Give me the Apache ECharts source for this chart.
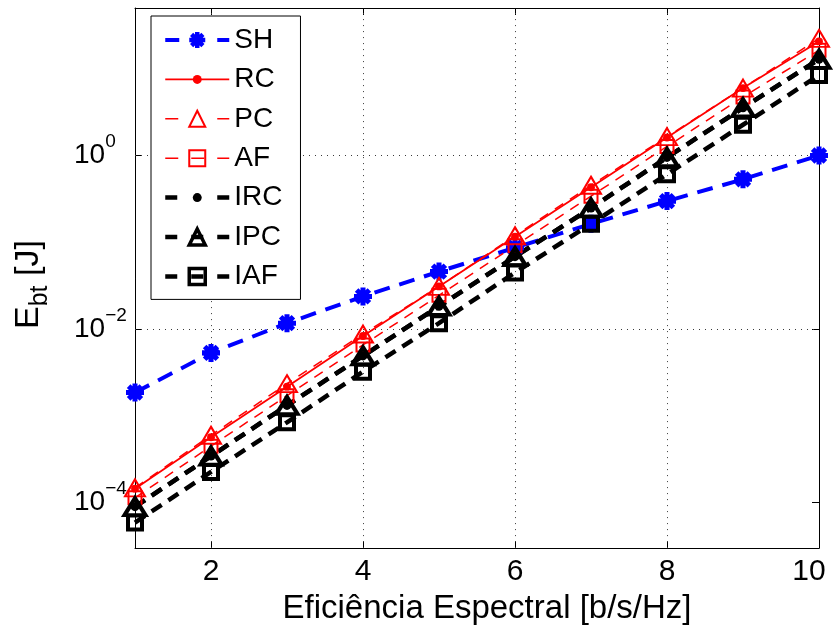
<!DOCTYPE html>
<html>
<head>
<meta charset="utf-8">
<script src="https://cdn.jsdelivr.net/npm/echarts@6/dist/echarts.min.js"></script>
<style>
  html, body { margin: 0; padding: 0; background: #ffffff; }
  #chart { width: 837px; height: 630px; }
</style>
</head>
<body>
<div id="chart"></div>
<script>
// Energy per bit versus spectral efficiency
const efficiency = [1, 2, 3, 4, 5, 6, 7, 8, 9, 10];
const xTickValues = [2, 4, 6, 8, 10];
const xGridValues = [2, 4, 6, 8];
const yTickValues = [1e-4, 1e-2, 1];

const SH  = [1.86e-3, 5.32e-3, 1.17e-2, 2.38e-2, 4.60e-2, 8.65e-2, 0.163, 0.298, 0.532, 1.0];
const RC  = [1.45e-4, 5.68e-4, 2.17e-3, 8.32e-3, 3.10e-2, 0.116, 0.431, 1.61, 5.98, 20.6];
const PC  = [1.48e-4, 5.99e-4, 2.35e-3, 8.77e-3, 3.10e-2, 0.119, 0.454, 1.65, 5.98, 22.3];
const AF  = [1.14e-4, 4.48e-4, 1.71e-3, 6.56e-3, 2.45e-2, 9.12e-2, 0.340, 1.27, 4.72, 16.3];
const IRC = [9.0e-5, 3.44e-4, 1.32e-3, 4.91e-3, 1.83e-2, 6.83e-2, 0.248, 0.949, 3.54, 12.8];
const IPC = [9.0e-5, 3.44e-4, 1.32e-3, 4.91e-3, 1.83e-2, 6.83e-2, 0.248, 0.949, 3.54, 12.8];
const IAF = [5.91e-5, 2.26e-4, 8.43e-4, 3.23e-3, 1.17e-2, 4.48e-2, 0.163, 0.607, 2.26, 8.43];

const FONT = '"Liberation Sans", Arial, Helvetica, sans-serif';
const RED = '#ff0000', BLUE = '#0000ff', BLACK = '#000000';
const CLEAR = 'rgba(0,0,0,0)';
const GRID = '#3a3a3a';

// eight-armed asterisk marker built from four bars
function asteriskSymbol() {
  const w = 0.14, parts = [];
  for (let k = 0; k < 4; k++) {
    const a = k * Math.PI / 4, c = Math.cos(a), s = Math.sin(a);
    const pts = [[-0.5, -w], [0.5, -w], [0.5, w], [-0.5, w]]
      .map(([x, y]) => (x * c - y * s).toFixed(4) + ' ' + (x * s + y * c).toFixed(4));
    parts.push('M' + pts.join(' L') + ' Z');
  }
  return 'path://' + parts.join(' ');
}
// small filled dot inside a unit box (corner points keep the box size)
const DOT = 'path://M-0.5 -0.5 L-0.5 -0.5 M0.5 0.5 L0.5 0.5 M0.28 0 A0.28 0.28 0 1 1 -0.28 0 A0.28 0.28 0 1 1 0.28 0 Z';
const STAR = asteriskSymbol();

function pairs(values) {
  return efficiency.map((x, i) => [x, values[i]]);
}

function lineSeries(name, values, color, width, dash, symbol, size, hollow, border) {
  return {
    name: name,
    type: 'line',
    data: pairs(values),
    clip: false,
    symbol: symbol,
    symbolSize: size,
    showSymbol: true,
    showAllSymbol: true,
    lineStyle: { color: color, width: width, type: dash },
    itemStyle: hollow
      ? { color: CLEAR, borderColor: color, borderWidth: border }
      : { color: color, borderWidth: 0 },
    emphasis: { disabled: true },
    z: 3
  };
}

const seriesList = [
  lineSeries('SH',  SH,  BLUE,  4,   [16, 10], STAR, 18, false, 0),
  lineSeries('RC',  RC,  RED,   1.8, 'solid',  DOT, 14, false, 0),
  lineSeries('PC',  PC,  RED,   1.5, [10, 8],  'triangle', [20, 17], true, 2),
  lineSeries('AF',  AF,  RED,   1.5, [10, 8],  'rect', 13, true, 2),
  lineSeries('IRC', IRC, BLACK, 4.5, [12, 8],  DOT, 16, false, 0),
  lineSeries('IPC', IPC, BLACK, 4.5, [12, 8],  'triangle', [21, 17], true, 4),
  lineSeries('IAF', IAF, BLACK, 4.5, [12, 8],  'rect', 14, true, 4)
];

// dotted grid drawn beneath the curves
seriesList[0].markLine = {
  silent: true,
  z: 1,
  animation: false,
  symbol: ['none', 'none'],
  label: { show: false },
  emphasis: { disabled: true },
  lineStyle: { color: GRID, type: [1, 5], width: 1 },
  data: xGridValues.map(v => ({ xAxis: v })).concat(yTickValues.map(v => ({ yAxis: v })))
};

// legend sample styles
const legendStyles = {
  SH:  { lw: 4,   bw: 0,   dash: [14, 38] },
  RC:  { lw: 1.8, bw: 0,   dash: 'solid' },
  PC:  { lw: 1.5, bw: 2,   dash: [13, 39] },
  AF:  { lw: 1.5, bw: 2,   dash: [13, 13] },
  IRC: { lw: 4.5, bw: 0,   dash: [12, 40] },
  IPC: { lw: 4.5, bw: 3.5, dash: [12, 14] },
  IAF: { lw: 4.5, bw: 3.5, dash: [12, 14] }
};

function expLabel(v) {
  const e = Math.round(Math.log10(v));
  const txt = e < 0 ? '\u2212' + (-e) : String(e);
  return '{b|10}{s|' + txt + '}';
}

const axisLineStyle = { show: true, onZero: false, lineStyle: { color: BLACK, width: 1 } };

const option = {
  animation: false,
  backgroundColor: '#ffffff',
  grid: { left: 135, right: 18, top: 8, bottom: 79, containLabel: false },
  xAxis: [
    {
      type: 'value', min: 1, max: 10, position: 'bottom',
      axisLine: axisLineStyle,
      axisTick: { show: true, inside: true, length: 7, customValues: xTickValues, lineStyle: { color: BLACK } },
      axisLabel: {
        customValues: xTickValues, fontSize: 30, color: BLACK, fontFamily: FONT, margin: 9,
        formatter: v => (v === 10 ? '{r|10}' : String(v)),
        rich: { r: { fontSize: 30, color: BLACK, fontFamily: FONT, padding: [0, 20, 0, 0] } }
      },
      splitLine: { show: false },
      name: 'Eficiência Espectral [b/s/Hz]',
      nameLocation: 'middle', nameGap: 37,
      nameTextStyle: { fontSize: 33, color: BLACK, fontFamily: FONT, padding: [0, 0, 0, 20] }
    },
    {
      type: 'value', min: 1, max: 10, position: 'top',
      axisLine: axisLineStyle,
      axisTick: { show: true, inside: true, length: 7, customValues: xTickValues, lineStyle: { color: BLACK } },
      axisLabel: { show: false },
      splitLine: { show: false }
    }
  ],
  yAxis: [
    {
      type: 'log', logBase: 10, min: 3e-5, max: 50, position: 'left',
      axisLine: axisLineStyle,
      axisTick: { show: true, inside: true, length: 7, customValues: yTickValues, lineStyle: { color: BLACK } },
      minorTick: { show: false },
      axisLabel: {
        customValues: yTickValues, align: 'left', margin: 61,
        formatter: expLabel,
        rich: {
          b: { fontSize: 28, color: BLACK, fontFamily: FONT, lineHeight: 46 },
          s: { fontSize: 19, color: BLACK, fontFamily: FONT, lineHeight: 20, verticalAlign: 'top' }
        }
      },
      splitLine: { show: false }
    },
    {
      type: 'log', logBase: 10, min: 3e-5, max: 50, position: 'right',
      axisLine: axisLineStyle,
      axisTick: { show: true, inside: true, length: 7, customValues: yTickValues, lineStyle: { color: BLACK } },
      minorTick: { show: false },
      axisLabel: { show: false },
      splitLine: { show: false }
    }
  ],
  legend: {
    orient: 'vertical',
    left: 151, top: 16,
    padding: [10, 18, 9, 12],
    itemWidth: 64, itemHeight: 20, itemGap: 11.4,
    backgroundColor: '#ffffff',
    borderColor: BLACK, borderWidth: 1, borderRadius: 0,
    selectedMode: false,
    textStyle: { fontSize: 28, lineHeight: 28, color: BLACK, fontFamily: FONT },
    data: seriesList.map(s => ({
      name: s.name,
      itemStyle: { borderWidth: legendStyles[s.name].bw },
      lineStyle: { width: legendStyles[s.name].lw, type: legendStyles[s.name].dash }
    }))
  },
  series: seriesList,
  graphic: [
    {
      type: 'text', x: 29, y: 329, rotation: Math.PI / 2, silent: true,
      style: { text: 'E', fontSize: 34, fontFamily: FONT, fill: BLACK, align: 'left', verticalAlign: 'middle' }
    },
    {
      type: 'text', x: 40, y: 306.3, rotation: Math.PI / 2, silent: true,
      style: { text: 'bt', fontSize: 25, fontFamily: FONT, fill: BLACK, align: 'left', verticalAlign: 'middle' }
    },
    {
      type: 'text', x: 29, y: 285.4, rotation: Math.PI / 2, silent: true,
      style: { text: ' [J]', fontSize: 34, fontFamily: FONT, fill: BLACK, align: 'left', verticalAlign: 'middle' }
    }
  ]
};

const chart = echarts.init(document.getElementById('chart'), null, { renderer: 'canvas' });
chart.setOption(option);
</script>
</body>
</html>
